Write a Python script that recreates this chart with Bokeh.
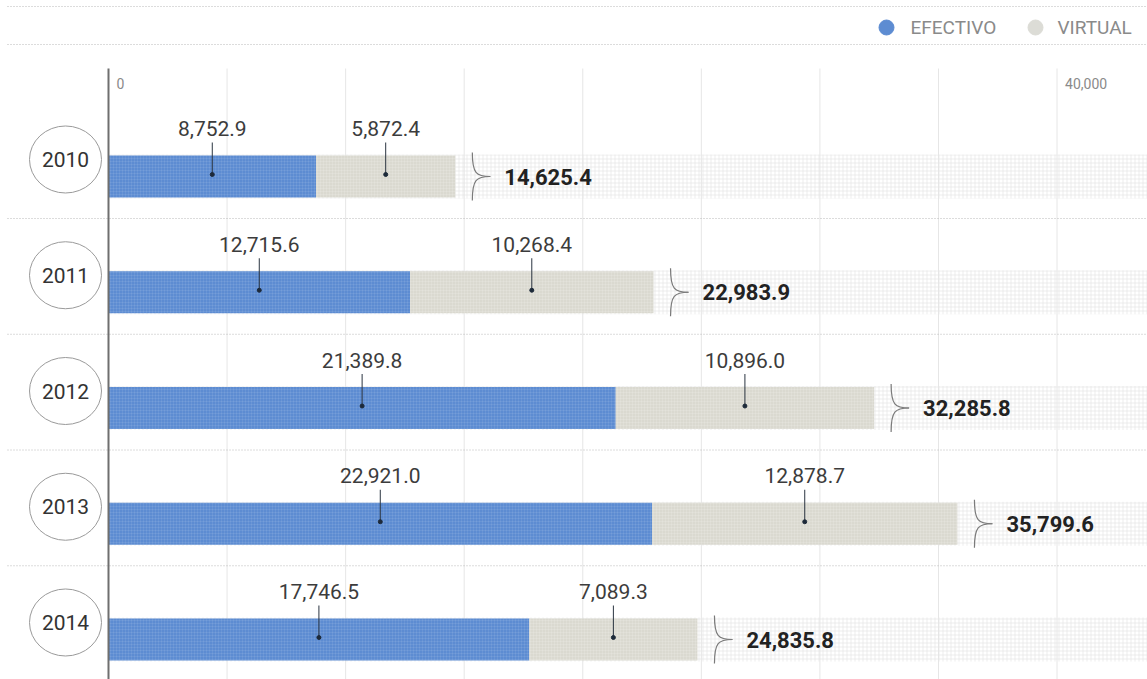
from bokeh.plotting import figure
from bokeh.models import Range1d
from bokeh.core.properties import value
from bokeh.embed import file_html
from bokeh.resources import INLINE

# ---------------- data ----------------
years = ["2010", "2011", "2012", "2013", "2014"]
efectivo = [8752.9, 12715.6, 21389.8, 22921.0, 17746.5]
virtual = [5872.4, 10268.4, 10896.0, 12878.7, 7089.3]
totals = [14625.4, 22983.9, 32285.8, 35799.6, 24835.8]
grid_ticks = [5000, 10000, 15000, 20000, 25000, 30000, 35000, 40000]
tick_values = [0, 40000]
tick_labels = ["0", "40,000"]
legend_labels = ["EFECTIVO", "VIRTUAL"]

# ---------------- layout ----------------
W, H = 1147, 679
X0PX = 108          # pixel of value 0
UPX = 42.17         # data units per pixel
ROW0 = 176          # pixel of first row centre
ROWH = 115.75       # pixel spacing of rows

BLUE = "#5d8cd2"
GREY = "#dad9d0"
FONT = "Roboto"


def xd(px):
    return (px - X0PX) * UPX


def yd(py):
    return (py - ROW0) / ROWH


def dy(px):
    return px / ROWH


rows = list(range(len(years)))

p = figure(width=W, height=H, x_range=Range1d(xd(0), xd(W)),
           y_range=Range1d(yd(H), yd(0)), min_border=0,
           toolbar_location=None, output_backend="svg")
p.axis.visible = False
p.grid.visible = False
p.outline_line_color = None
p.background_fill_color = "white"
p.border_fill_color = "white"

# hatched background bands
p.hbar(y=rows, left=0, right=xd(W), height=dy(44), fill_color="white",
       line_color=None, hatch_pattern="+", hatch_color="#e0e0e0",
       hatch_scale=4, hatch_weight=0.6)

# vertical grid lines
p.segment(x0=grid_ticks, y0=[yd(68)] * len(grid_ticks), x1=grid_ticks,
          y1=[yd(H)] * len(grid_ticks), line_color="#e6e6e6", line_width=1)

# dotted horizontal rules
rule_y = [yd(6), yd(44)] + [r + dy(42) for r in rows[:-1]]
p.segment(x0=[xd(7)] * len(rule_y), y0=rule_y, x1=[xd(W)] * len(rule_y),
          y1=rule_y, line_color="#b8b8b8", line_width=1, line_dash="1 2")

# bars
p.hbar(y=rows, left=0, right=efectivo, height=dy(42), fill_color=BLUE,
       line_color=None, hatch_pattern="+", hatch_color="white",
       hatch_alpha=0.15, hatch_scale=3, hatch_weight=0.5)
p.hbar(y=rows, left=efectivo, right=totals, height=dy(42), fill_color=GREY,
       line_color=None, hatch_pattern="+", hatch_color="white",
       hatch_alpha=0.25, hatch_scale=3, hatch_weight=0.5)

# axis line
p.segment(x0=[0], y0=[yd(68)], x1=[0], y1=[yd(H)], line_color="#6f6f6f",
          line_width=2)

# tick labels
p.text(x=tick_values, y=[yd(83)] * 2, text=tick_labels, x_offset=8,
       text_font=value(FONT), text_font_size="14px", text_color="#8a8a8a",
       text_baseline="middle", text_align="left")

# value labels with leaders
ef_mid = [e / 2 for e in efectivo]
vi_mid = [e + v / 2 for e, v in zip(efectivo, virtual)]
mids = ef_mid + vi_mid
vals = efectivo + virtual
rr = rows + rows
p.segment(x0=mids, y0=[r - dy(34) for r in rr], x1=mids,
          y1=[r - dy(2) for r in rr], line_color="#2a3440", line_width=1)
p.scatter(x=mids, y=[r - dy(2) for r in rr], size=4, color="#1d2a3a")
p.text(x=mids, y=rr, text=[f"{v:,.1f}" for v in vals], y_offset=-48,
       text_font=value(FONT), text_font_size="21px", text_color="#3c3c3c",
       text_align="center", text_baseline="middle")

# braces + totals
bx0 = [t + 17 * UPX for t in totals]
btip = [t + 35 * UPX for t in totals]
bc = [t + 21 * UPX for t in totals]
for sgn in (-1, 1):
    p.bezier(x0=bx0, y0=[r + sgn * dy(24) for r in rows], x1=btip, y1=rows,
             cx0=bx0, cy0=[r + sgn * dy(3) for r in rows], cx1=bc, cy1=rows,
             line_color="#7a7a7a", line_width=1.2)
p.text(x=totals, y=rows, text=[f"{t:,.1f}" for t in totals], x_offset=49,
       text_font=value(FONT), text_font_size="22px", text_font_style="bold",
       text_color="#222222", text_align="left", text_baseline="middle")

# year circles
cy = [r - dy(17) for r in rows]
p.ellipse(x=[xd(65)] * len(rows), y=cy, width=72, height=67,
          width_units="screen", height_units="screen", fill_color="white",
          line_color="#9a9a9a", line_width=1)
p.text(x=[xd(65)] * len(rows), y=cy, text=years, text_font=value(FONT),
       text_font_size="21px", text_color="#333333", text_align="center",
       text_baseline="middle")

# legend
p.scatter(x=[xd(886), xd(1035)], y=[yd(27)] * 2, size=15,
          color=[BLUE, "#dcdcd6"])
p.text(x=[xd(910), xd(1057)], y=[yd(27)] * 2, text=legend_labels,
       text_font=value(FONT), text_font_size="19px", text_color="#8a8a8a",
       text_align="left", text_baseline="middle")

open("out.html", "w").write(file_html(p, INLINE))
